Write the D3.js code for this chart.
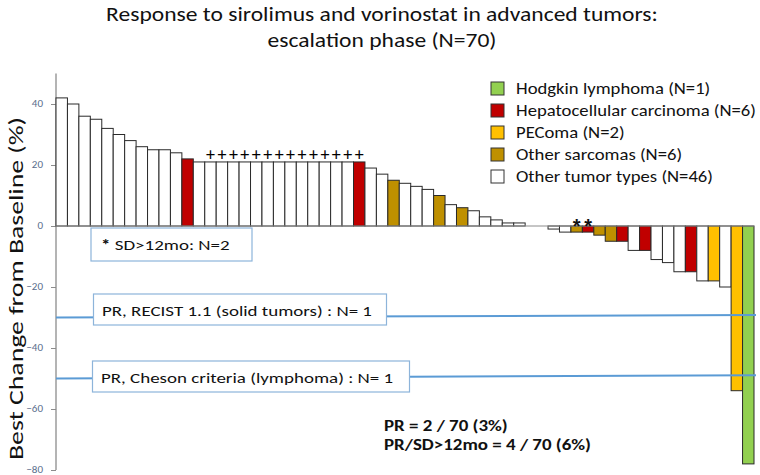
<!DOCTYPE html>
<html><head><meta charset="utf-8">
<script src="https://cdn.jsdelivr.net/npm/d3@7"></script>
<style>body{margin:0;background:#fff}svg{display:block}</style>
</head><body><svg id="c" width="760" height="475"></svg>
<script>
// ---- data ----
const values = [42,40,36,35,32,30,28,26,25,25,24,22,21,21,21,21,21,21,21,21,21,21,21,21,21,21,21,19,17,15,14,13,12,10,7,6,5,3,2,1,1,0,0,-1,-2,-2,-2,-3,-5,-5,-8,-8,-11,-12,-15,-15,-18,-18,-20,-54,-78];
const types  = ["O","O","O","O","O","O","O","O","O","O","O","C","O","O","O","O","O","O","O","O","O","O","O","O","O","O","C","O","O","S","O","O","O","S","O","S","O","O","O","O","O","O","O","O","O","S","C","S","S","C","O","C","O","O","O","C","O","P","O","P","H"];
const plusBars = [13,14,15,16,17,18,19,20,21,22,23,24,25,26];
const starBars = [45,46];
const legendKeys = ["H","C","P","S","O"];
const legendLabels = ["Hodgkin lymphoma (N=1)","Hepatocellular carcinoma (N=6)","PEComa (N=2)","Other sarcomas (N=6)","Other tumor types (N=46)"];
const legendColors = ["#92D050","#C00000","#FFC000","#BF9000","#FFFFFF"];
const yTicks = [-80,-60,-40,-20,0,20,40];
const refLines = [{label:"PR, RECIST 1.1 (solid tumors) : N= 1", from:-30, to:-29.2},
                  {label:"PR, Cheson criteria (lymphoma) : N= 1", from:-50, to:-48.9}];
const sdNote = "SD>12mo: N=2";
const titleLines = ["Response to sirolimus and vorinostat in advanced tumors:","escalation phase (N=70)"];
const yLabel = "Best Change from Baseline (%)";
const summary = ["PR = 2 / 70 (3%)","PR/SD>12mo = 4 / 70 (6%)"];

// ---- drawing ----
const FONT = "Carlito, Lato, 'Open Sans', sans-serif";
const svg = d3.select("#c");
// horizontally condense a text (to mimic the narrow original face)
function factorFor(sel, target){ return target / sel.node().getComputedTextLength(); }
function squeeze(sel, f){
  sel.each(function(){
    const w = this.getComputedTextLength();
    d3.select(this).attr("textLength", w*f).attr("lengthAdjust","spacingAndGlyphs");
  });
}
const color = d3.scaleOrdinal().domain(legendKeys).range(legendColors);
const x = d3.scaleBand().domain(d3.range(values.length)).range([56,754]).padding(0);
const y = d3.scaleLinear().domain([-80,50]).range([470,73.5]);

// title
const title = svg.append("g").selectAll("text").data(titleLines).join("text")
  .attr("x",382).attr("y",(d,i)=>21+i*26).attr("text-anchor","middle")
  .attr("font-family",FONT).attr("font-size",20.5).attr("fill","#111").text(d=>d);
squeeze(title, factorFor(d3.select(title.nodes()[1]),229));

// y axis
const axis = svg.append("g").attr("transform","translate(56,0)")
  .call(d3.axisLeft(y).tickValues(yTicks).tickSize(5).tickPadding(8).tickFormat(d3.format("d")));
axis.select(".domain").attr("stroke","#8c8c8c").attr("stroke-width",1.3).attr("d",`M0,${y(50)}V${y(-80)}`);
axis.selectAll(".tick line").attr("stroke","#8c8c8c");
axis.selectAll(".tick text").attr("fill","#5a6e8c").attr("font-size",11).attr("font-family",FONT).attr("dy","0.2em");

const yl = svg.append("text").attr("transform",`translate(23,${(460+117)/2}) rotate(-90)`)
  .attr("text-anchor","middle").attr("font-family",FONT).attr("font-size",20.5).attr("fill","#111").text(yLabel);
squeeze(yl, factorFor(yl,343));

// bars
svg.append("g").selectAll("rect").data(values).join("rect")
  .attr("x",(d,i)=>x(i)).attr("width",x.bandwidth())
  .attr("y",d=>y(Math.max(0,d))).attr("height",d=>Math.abs(y(d)-y(0)))
  .attr("fill",(d,i)=>color(types[i])).attr("stroke",(d,i)=>d===0?"none":"#2a2a2a").attr("stroke-width",1);

// baseline
svg.append("line").attr("x1",56).attr("x2",754).attr("y1",y(0)).attr("y2",y(0)).attr("stroke","#8c8c8c").attr("stroke-width",1);

// plus signs
svg.append("g").selectAll("text").data(plusBars).join("text")
  .attr("x",i=>x(i)+x.bandwidth()/2).attr("y",i=>y(values[i])-1)
  .attr("text-anchor","middle")
  .attr("font-family",FONT).attr("font-size",18).attr("fill","#000").text("+");
// asterisks
svg.append("g").selectAll("text").data(starBars).join("text")
  .attr("x",i=>x(i)+x.bandwidth()/2).attr("y",y(0)+7)
  .attr("text-anchor","middle").attr("font-family","'Liberation Sans', sans-serif").attr("font-weight","bold")
  .attr("font-size",20).attr("fill","#111").text("*");

// reference lines
svg.append("g").selectAll("line").data(refLines).join("line")
  .attr("x1",56).attr("x2",756).attr("y1",d=>y(d.from)).attr("y2",d=>y(d.to))
  .attr("stroke","#5B9BD5").attr("stroke-width",2);

// annotation boxes
const boxes = [
  {x0:91,x1:252,y0:228,y1:261,tx:101,ty:249.5},
  {x0:93.5,x1:386.5,y0:294,y1:325,tx:102,ty:315.5},
  {x0:92.5,x1:409.5,y0:361,y1:392,tx:101,ty:382.5}
];
boxes.forEach(b=>{
  svg.append("rect").attr("x",b.x0).attr("y",b.y0).attr("width",b.x1-b.x0).attr("height",b.y1-b.y0)
    .attr("fill","#fff").attr("stroke","#8DB4DA").attr("stroke-width",1.2);
});
const bt = svg.append("g").selectAll("text").data(refLines).join("text")
  .attr("x",(d,i)=>boxes[i+1].tx).attr("y",(d,i)=>boxes[i+1].ty).attr("font-family",FONT)
  .attr("font-size",15).attr("fill","#111").text(d=>d.label);
const bf = factorFor(d3.select(bt.nodes()[0]),270);
squeeze(bt,bf);
const sdt = svg.append("text").attr("x",boxes[0].tx).attr("y",boxes[0].ty).attr("font-family",FONT)
  .attr("font-size",15).attr("fill","#111");
sdt.append("tspan").attr("font-weight","bold").text("* ");
sdt.append("tspan").text(sdNote);
squeeze(sdt,bf);

// legend
const lg = svg.append("g");
const legRows = legendKeys.map((k,i)=>({k,label:legendLabels[i],y:94+i*22}));
lg.selectAll("rect").data(legRows).join("rect")
  .attr("x",491).attr("y",d=>d.y-12).attr("width",13).attr("height",13)
  .attr("fill",d=>color(d.k)).attr("stroke","#333").attr("stroke-width",1);
const lt = lg.selectAll("text").data(legRows).join("text")
  .attr("x",516).attr("y",d=>d.y).attr("font-family",FONT).attr("font-size",15.5).attr("fill","#111")
  .text(d=>d.label);
squeeze(lt, factorFor(d3.select(lt.nodes()[1]),240));

// summary text
const st = svg.append("g").selectAll("text").data(summary).join("text")
  .attr("x",384).attr("y",(d,i)=>431+i*19).attr("font-family",FONT).attr("font-weight","bold")
  .attr("font-size",15.5).attr("fill","#111").text(d=>d);
squeeze(st, factorFor(d3.select(st.nodes()[1]),207));
</script></body></html>
